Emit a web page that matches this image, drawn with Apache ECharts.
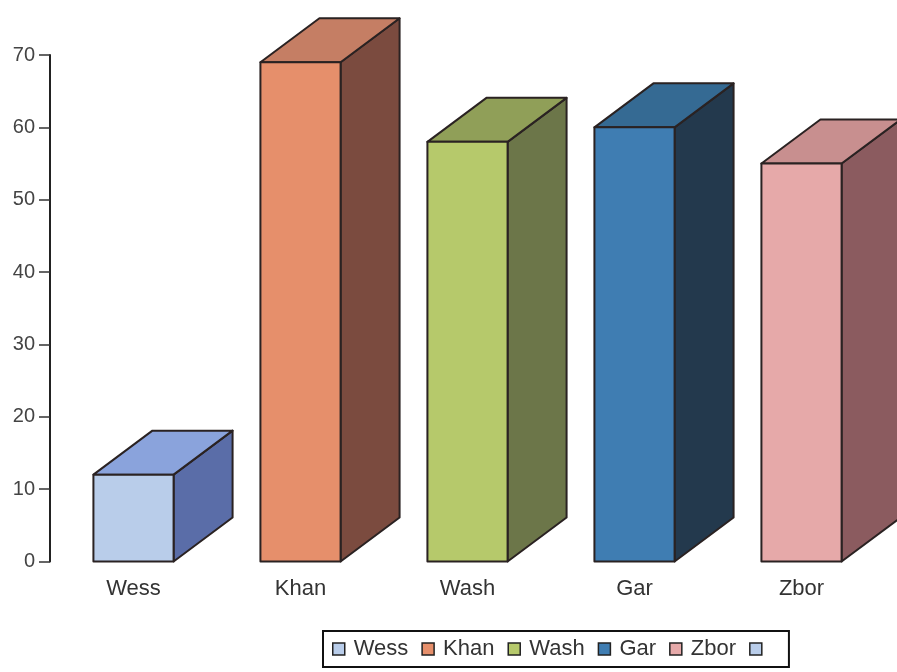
<!DOCTYPE html>
<html>
<head>
<meta charset="utf-8">
<script src="https://cdn.jsdelivr.net/npm/echarts@6/dist/echarts.min.js"></script>
<style>
  html, body { margin: 0; padding: 0; background: #ffffff; }
  #chart { width: 897px; height: 672px; }
</style>
</head>
<body>
<div id="chart"></div>
<script>
// Categories and their values
const categories = ['Wess', 'Khan', 'Wash', 'Gar', 'Zbor'];
const values = [12, 69, 58, 60, 55];
const yTicks = [0, 10, 20, 30, 40, 50, 60, 70];

// Face colours for each block: front, top, side
const frontColors = ['#b9cdea', '#e68f6b', '#b6c96b', '#3f7db2', '#e6a9a9'];
const topColors   = ['#8aa3dc', '#c57e64', '#909f58', '#356a93', '#c88f8f'];
const sideColors  = ['#5a6da8', '#7b4b3f', '#6c7649', '#23394d', '#8b5b5f'];

const EDGE = '#2a2222';
const DEPTH_X = 59;   // horizontal depth of each block
const DEPTH_Y = -44;  // vertical depth of each block
const FRONT_RATIO = 0.48;

function renderBlock(params, api) {
  const idx = api.value(0);
  const val = api.value(1);
  const top = api.coord([idx, val]);
  const base = api.coord([idx, 0]);
  const w = api.size([1, 0])[0] * FRONT_RATIO;
  const x0 = top[0] - w / 2;
  const x1 = top[0] + w / 2;
  const yt = top[1];
  const yb = base[1];
  const k = idx;
  const lineStyle = { stroke: EDGE, lineWidth: 2, lineJoin: 'round' };
  return {
    type: 'group',
    children: [
      {
        type: 'polygon',
        shape: { points: [[x1, yt], [x1 + DEPTH_X, yt + DEPTH_Y], [x1 + DEPTH_X, yb + DEPTH_Y], [x1, yb]] },
        style: Object.assign({ fill: sideColors[k] }, lineStyle)
      },
      {
        type: 'polygon',
        shape: { points: [[x0, yt], [x1, yt], [x1 + DEPTH_X, yt + DEPTH_Y], [x0 + DEPTH_X, yt + DEPTH_Y]] },
        style: Object.assign({ fill: topColors[k] }, lineStyle)
      },
      {
        type: 'rect',
        shape: { x: x0, y: yt, width: w, height: yb - yt },
        style: Object.assign({ fill: frontColors[k] }, lineStyle)
      }
    ]
  };
}

const series = categories.map((name, k) => ({
  name: name,
  type: 'custom',
  clip: false,
  itemStyle: { color: frontColors[k] },
  renderItem: renderBlock,
  encode: { x: 0, y: 1 },
  data: [[k, values[k]]]
}));
// trailing legend entry with no label
series.push({
  name: '\u00a0',
  type: 'custom',
  itemStyle: { color: frontColors[0] },
  renderItem: () => null,
  data: []
});

const chart = echarts.init(document.getElementById('chart'), null, { renderer: 'canvas' });
chart.setOption({
  animation: false,
  backgroundColor: '#ffffff',
  textStyle: { fontFamily: 'Liberation Sans, Arial, sans-serif' },
  grid: { left: 50, right: 12, top: 55, height: 506.5 },
  xAxis: {
    type: 'category',
    data: categories,
    axisLine: { show: false },
    axisTick: { show: false },
    axisLabel: { color: '#333333', fontSize: 22, margin: 16 }
  },
  yAxis: {
    type: 'value',
    min: 0,
    max: 70,
    interval: 10,
    splitLine: { show: false },
    axisLine: { show: true, lineStyle: { color: '#222222', width: 2 } },
    axisTick: { show: true, length: 11, lineStyle: { color: '#333333', width: 1.5 } },
    axisLabel: {
      color: '#444444', fontSize: 20, margin: 15,
      formatter: v => (yTicks.indexOf(v) >= 0 ? String(v) : '')
    }
  },
  legend: {
    left: 323,
    top: 631,
    orient: 'horizontal',
    icon: 'rect',
    itemWidth: 12,
    itemHeight: 12,
    itemGap: 13,
    padding: [6, 12, 6, 9],
    borderColor: '#111111',
    borderWidth: 2,
    itemStyle: { borderColor: '#222222', borderWidth: 1.5 },
    textStyle: { color: '#333333', fontSize: 22, lineHeight: 24, padding: [0, 0, 0, 4] },
    data: series.map(s => s.name)
  },
  series: series
});
</script>
</body>
</html>
